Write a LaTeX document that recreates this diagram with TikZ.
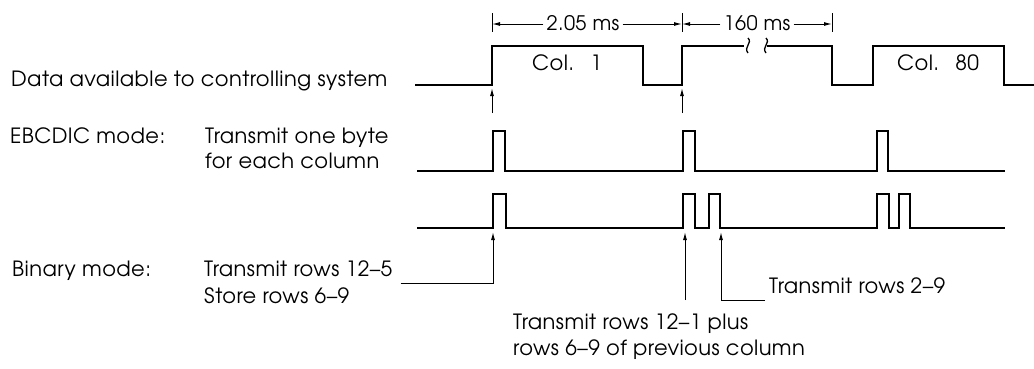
\documentclass[tikz,border=0pt]{standalone}
\usepackage{fontspec}
\setmainfont{TeX Gyre Adventor}[LetterSpace=2]
\usetikzlibrary{arrows.meta}

\tikzset{
  wave/.style={draw, line width=1.3pt, line join=miter},
  lbl/.style={anchor=base west, inner sep=0pt, font=\fontsize{21}{25}\selectfont},
  tag/.style={anchor=base west, inner sep=0pt, font=\fontsize{21}{25}\selectfont},
  dimtag/.style={anchor=base, inner sep=3pt, font=\fontsize{20}{24}\selectfont},
  pointer/.style={draw, line width=1pt, -{Latex[length=8pt,width=4pt]}},
}

\begin{document}
\begin{tikzpicture}[x=1pt,y=-1pt]
        \useasboundingbox (0,0) rectangle (1034,368);

        % labels
        \node[lbl] (data) at (11,86) {Data available to controlling system};
        \node[lbl] (ebcdic) at (10,143) {EBCDIC mode:};
        \node[lbl] (byte1) at (205,143) {Transmit one byte};
        \node[lbl] (byte2) at (205,168) {for each column};
        \node[lbl] (binary) at (12,276) {Binary mode:};
        \node[lbl] (t125) at (204,276) {Transmit rows 12--5};
        \node[lbl] (store) at (204,303) {Store rows 6--9};
        \node[lbl] (t121) at (513,329) {Transmit rows 12--1 plus};
        \node[lbl] (prev) at (513,355) {rows 6--9 of previous column};
        \node[lbl] (t29) at (769,293) {Transmit rows 2--9};
        \node[tag] (col1) at (532,70) {Col.\hspace{16pt}1};
        \node[tag] (col80) at (897,70) {Col.\hspace{16pt}80};

        % timing dimensions
        \coordinate (d0) at (492,24);
        \coordinate (d1) at (682,24);
        \coordinate (d2) at (832,24);
        \node[dimtag] (ms1) at (583,30) {2.05 ms};
        \node[dimtag] (ms2) at (757,30) {160 ms};
        \path[draw,line width=1pt] (492,13) -- (492,32);
        \path[draw,line width=1pt] (682,13) -- (682,32);
        \path[draw,line width=1pt] (832,13) -- (832,32);
        \path[pointer] (ms1.west |- d0) -- (d0);
        \path[pointer] (ms1.east |- d1) -- (d1);
        \path[pointer] (ms2.west |- d1) -- (d1);
        \path[pointer] (ms2.east |- d2) -- (d2);

        % data available
        \path[wave] (415,85) -- (492,85) -- (492,46) -- (643,46) -- (643,85)
            -- (682,85) -- (682,46) -- (744,46);
        \path[wave] (748,38) .. controls (753,43) and (743,47) .. (748,53);
        \path[wave] (766,38) .. controls (771,43) and (761,47) .. (766,53);
        \path[wave] (767,46) -- (832,46) -- (832,85) -- (873,85) -- (873,46)
            -- (1004,46) -- (1004,85) -- (1034,85);

        % EBCDIC mode
        \path[wave] (417,171) -- (493,171) -- (493,131) -- (505,131) -- (505,171)
            -- (683,171) -- (683,131) -- (695,131) -- (695,171)
            -- (877,171) -- (877,131) -- (888,131) -- (888,171) -- (1005,171);

        % binary mode
        \path[wave] (417,228) -- (493,228) -- (493,194) -- (506,194) -- (506,228)
            -- (683,228) -- (683,194) -- (695,194) -- (695,228)
            -- (709,228) -- (709,194) -- (720,194) -- (720,228)
            -- (877,228) -- (877,194) -- (889,194) -- (889,228)
            -- (899,228) -- (899,194) -- (910,194) -- (910,228) -- (1005,228);

        % pointers
        \coordinate (u1) at (492,88);
        \coordinate (u2) at (682,88);
        \coordinate (s1) at (492,113);
        \coordinate (s2) at (682,113);
        \coordinate (b1) at (493,232);
        \coordinate (b2) at (685,232);
        \coordinate (b3) at (721,232);
        \coordinate (a2) at (685,300);
        \path[pointer] (s1) -- (u1);
        \path[pointer] (s2) -- (u2);
        \path[pointer] ([shift={(8pt,-7pt)}]t125.base east) -| (b1);
        \path[pointer] (a2) -- (b2);
        \path[pointer] ([shift={(-4pt,-7pt)}]t29.base west) -| (b3);
    \end{tikzpicture}
\end{document}
